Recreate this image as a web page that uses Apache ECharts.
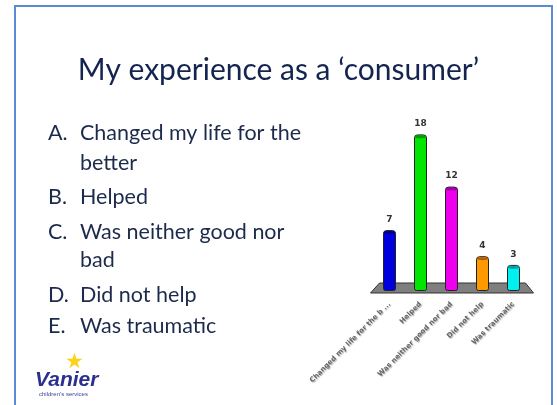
<!DOCTYPE html>
<html>
<head>
<meta charset="utf-8">
<script src="https://cdn.jsdelivr.net/npm/echarts@6/dist/echarts.min.js"></script>
<style>
  html, body { margin: 0; padding: 0; background: #fff; }
  #chart { width: 557px; height: 405px; }
</style>
</head>
<body>
<div id="chart"></div>
<script>
// datos del gráfico
const categories = ['Changed my life for the better', 'Helped', 'Was neither good nor bad', 'Did not help', 'Was traumatic'];
const values = [7, 18, 12, 4, 3];
const barColors = ['#0000dd', '#00e600', '#ee00ee', '#ff9900', '#00f0f0'];
const topColors = ['#000090', '#00a000', '#a000a0', '#b06000', '#00a0a0'];

// texto de la diapositiva
const slideTitle = 'My experience as a \u2018consumer\u2019';
const listLetters = ['A.', '', 'B.', 'C.', '', 'D.', 'E.'];
const listLines = ['Changed my life for the', 'better', 'Helped', 'Was neither good nor', 'bad', 'Did not help', 'Was traumatic'];
const listBaselines = [140, 170, 204, 239, 267, 302, 333];

const chart = echarts.init(document.getElementById('chart'));

const textColor = '#1c2a4c';
const listGraphics = [];
listLines.forEach((line, i) => {
  const y = listBaselines[i] - 7;
  if (listLetters[i]) {
    listGraphics.push({
      type: 'text', x: 48, y: y, z: 5,
      style: { text: listLetters[i], fontFamily: 'Lato', fontSize: 21.5, fill: textColor, verticalAlign: 'middle' }
    });
  }
  listGraphics.push({
    type: 'text', x: 80, y: y, z: 5,
    style: { text: line, fontFamily: 'Lato', fontSize: 21.5, fill: textColor, verticalAlign: 'middle' }
  });
});

const options = {
  animation: false,
  title: {
    text: slideTitle,
    left: 'center',
    top: 50,
    textStyle: { fontFamily: 'Lato', fontSize: 30, fontWeight: 'normal', color: '#13244f' }
  },
  grid: { left: 374, top: 117, width: 155, height: 174 },
  xAxis: {
    type: 'category',
    data: categories,
    axisLine: { show: false },
    axisTick: { show: false },
    axisLabel: {
      rotate: 45,
      margin: 12,
      interval: 0,
      fontSize: 7,
      fontWeight: 'bold',
      fontFamily: 'DejaVu Sans',
      color: '#666',
      textShadowColor: 'rgba(0,0,0,0.35)',
      textShadowBlur: 1,
      textShadowOffsetX: 1,
      textShadowOffsetY: 1,
      formatter: v => v.length > 25 ? v.slice(0, 25) + ' ...' : v
    }
  },
  yAxis: { type: 'value', min: 0, max: 20, show: false },
  series: [
    {
      type: 'bar',
      barWidth: 13,
      z: 3,
      data: values.map((v, i) => ({
        value: v,
        itemStyle: { color: barColors[i] }
      })),
      itemStyle: { borderColor: '#222', borderWidth: 1, borderRadius: [3, 3, 2, 2] },
      label: {
        show: true,
        position: 'top',
        distance: 6,
        fontFamily: 'DejaVu Sans',
        fontWeight: 'bold',
        fontSize: 9,
        color: '#333'
      }
    },
    {
      // tapa elíptica del cilindro
      type: 'pictorialBar',
      symbol: 'circle',
      symbolSize: [12, 3],
      symbolPosition: 'end',
      symbolOffset: [0, 1],
      z: 4,
      silent: true,
      data: values.map((v, i) => ({ value: v, itemStyle: { color: topColors[i] } }))
    }
  ],
  graphic: [
    {
      type: 'rect', z: 0,
      shape: { x: 15, y: 6, width: 537, height: 430 },
      style: { fill: 'none', stroke: '#5b8bd4', lineWidth: 2 }
    },
    ...listGraphics,
    // logo
    {
      type: 'text', x: 65, y: 352, z: 5,
      style: { text: '\u2605', fontSize: 21, fill: '#ffd21a', fontFamily: 'DejaVu Sans' }
    },
    {
      type: 'text', x: 35, y: 370, z: 5,
      style: { text: 'Vanier', fontFamily: 'Liberation Sans', fontStyle: 'italic', fontWeight: 'bold', fontSize: 21, fill: '#2b2f8f' }
    },
    {
      type: 'text', x: 39, y: 391, z: 5,
      style: { text: 'children\u2019s services', fontFamily: 'Liberation Sans', fontSize: 6, fill: '#3a3f9a' }
    }
  ]
};

chart.setOption(options);

// suelo gris bajo las barras
const c0 = chart.convertToPixel({ xAxisIndex: 0 }, 0);
const c4 = chart.convertToPixel({ xAxisIndex: 0 }, categories.length - 1);
const base = chart.convertToPixel({ yAxisIndex: 0 }, 0);
chart.setOption({
  graphic: [{
    id: 'floor',
    type: 'polygon',
    z: 1,
    shape: { points: [[c0 - 19, base + 2], [c4 + 20, base + 2], [c4 + 12, base - 8], [c0 - 10, base - 8]] },
    style: { fill: '#7f7f7f', stroke: '#333', lineWidth: 1 }
  }]
});
</script>
</body>
</html>
